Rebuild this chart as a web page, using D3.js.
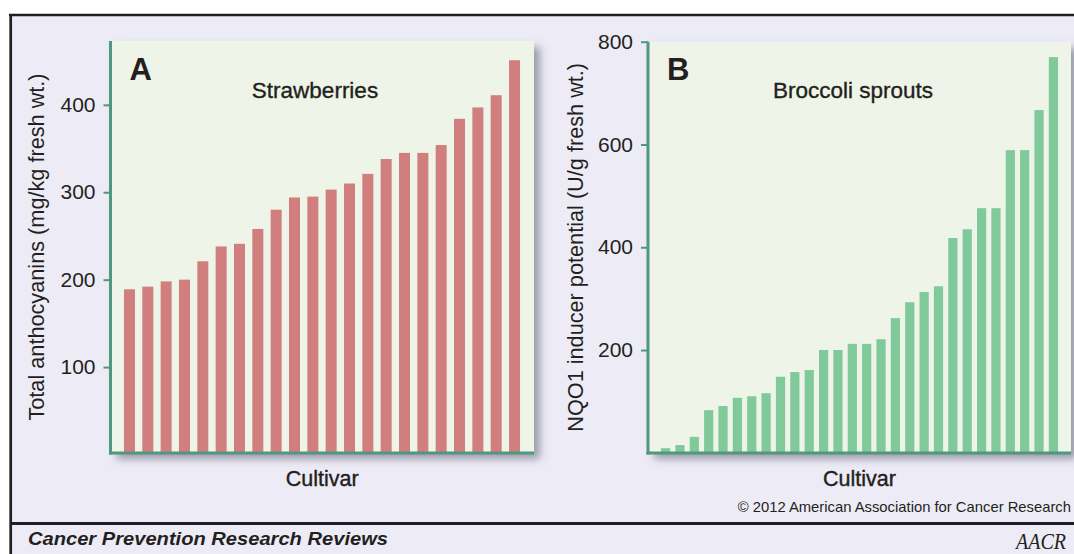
<!DOCTYPE html>
<html>
<head>
<meta charset="utf-8">
<script src="https://cdn.jsdelivr.net/npm/d3@7"></script>
<style>
	body { margin: 0; background: #fff; }
	svg { display: block; }
	text { font-family: "Liberation Sans", Arial, Helvetica, sans-serif; fill: #231f20; }
</style>
</head>
<body>
<div id="chart"></div>
<script>
// values, cultivars sorted low -> high
var strawberryCultivars = d3.range(1, 23).map(i => 'S' + i)
var strawberryValues = [189, 192, 198, 200, 221, 238, 241, 258, 280, 294, 295, 303, 310, 321, 338, 345, 345, 354, 384, 397, 411, 451]
var strawberryTicks = [100, 200, 300, 400]

var broccoliCultivars = d3.range(1, 29).map(i => 'B' + i)
var broccoliValues = [9, 15, 31, 83, 91, 107, 110, 116, 148, 157, 161, 200, 200, 212, 212, 221, 262, 293, 313, 324, 418, 435, 476, 476, 589, 589, 667, 770]
var broccoliTicks = [200, 400, 600, 800]

var width = 1074
var height = 554

var axisColor = '#4f977e'
var plotFill = '#eef4e7'
var frameColor = '#231f20'

const svg = d3.select('#chart').append('svg')
	.attr('width', width)
	.attr('height', height)

// drop shadow for the plot panels
var defs = svg.append('defs')
defs.append('filter')
	.attr('id', 'shadow')
	.attr('x', '-5%').attr('y', '-5%')
	.attr('width', '115%').attr('height', '115%')
	.append('feDropShadow')
	.attr('dx', 6)
	.attr('dy', 6)
	.attr('stdDeviation', 4)
	.attr('flood-color', '#55546a')
	.attr('flood-opacity', 0.55)

// page background + frame
svg.append('rect')
	.attr('x', 10).attr('y', 15)
	.attr('width', width - 10).attr('height', height - 15)
	.attr('fill', '#edecf6')

svg.append('line')
	.attr('x1', 9).attr('x2', width)
	.attr('y1', 15).attr('y2', 15)
	.attr('stroke', frameColor).attr('stroke-width', 2.5)

svg.append('line')
	.attr('x1', 10.7).attr('x2', 10.7)
	.attr('y1', 14).attr('y2', height)
	.attr('stroke', frameColor).attr('stroke-width', 2.7)

svg.append('line')
	.attr('x1', 10).attr('x2', width)
	.attr('y1', 523.5).attr('y2', 523.5)
	.attr('stroke', frameColor).attr('stroke-width', 3)

function drawPanel(opts) {
	var g = svg.append('g')

	var x = d3.scaleBand()
		.domain(opts.categories)
		.range(opts.band)
		.paddingInner(opts.padIn)
		.paddingOuter(opts.padIn / 2)

	var y = d3.scaleLinear()
		.domain([0, opts.yMax])
		.range([opts.zeroY, opts.top])

	// plot background with shadow
	g.append('rect')
		.attr('x', opts.left)
		.attr('y', opts.top)
		.attr('width', opts.right - opts.left)
		.attr('height', opts.bottom - opts.top)
		.attr('fill', plotFill)
		.attr('filter', 'url(#shadow)')

	// bars
	g.selectAll('rect.bar')
		.data(opts.values)
		.enter()
		.append('rect')
		.attr('class', 'bar')
		.attr('x', (d, i) => x(opts.categories[i]))
		.attr('y', d => y(d))
		.attr('width', x.bandwidth())
		.attr('height', d => opts.bottom - y(d))
		.attr('fill', opts.color)

	// y axis
	var yAxis = g.append('g')
		.attr('transform', 'translate(' + opts.left + ',0)')
		.call(d3.axisLeft(y).tickValues(opts.ticks).tickSize(7).tickSizeOuter(0).tickPadding(8))

	yAxis.select('.domain')
		.attr('d', 'M0,' + opts.top + 'V' + (opts.bottom + 1.5))
		.attr('stroke', axisColor)
		.attr('stroke-width', 3)
	yAxis.selectAll('.tick line')
		.attr('stroke', axisColor)
		.attr('stroke-width', 2)
	yAxis.selectAll('.tick text')
		.attr('font-size', 21)
		.attr('font-family', '"Liberation Sans", Arial, sans-serif')
		.attr('fill', '#231f20')

	// bottom axis line
	g.append('line')
		.attr('x1', opts.left - 1.5)
		.attr('x2', opts.right)
		.attr('y1', opts.bottom)
		.attr('y2', opts.bottom)
		.attr('stroke', axisColor)
		.attr('stroke-width', 3)

	// panel letter
	g.append('text')
		.attr('x', opts.left + 19)
		.attr('y', 80)
		.attr('font-size', 31)
		.attr('font-weight', 'bold')
		.text(opts.letter)

	// title
	g.append('text')
		.attr('x', opts.titleX)
		.attr('y', 98)
		.attr('text-anchor', 'middle')
		.attr('font-size', 22.5)
		.attr('stroke', '#231f20')
		.attr('stroke-width', 0.35)
		.text(opts.title)

	// x label
	g.append('text')
		.attr('x', (opts.left + opts.right) / 2)
		.attr('y', 486)
		.attr('text-anchor', 'middle')
		.attr('font-size', 21.5)
		.attr('stroke', '#231f20')
		.attr('stroke-width', 0.4)
		.text('Cultivar')

	// y label
	g.append('text')
		.attr('transform', 'translate(' + opts.yLabelX + ',' + ((opts.top + opts.bottom) / 2) + ') rotate(-90)')
		.attr('text-anchor', 'middle')
		.attr('font-size', 21.7)
		.text(opts.yLabel)
}

drawPanel({
	categories: strawberryCultivars,
	values: strawberryValues,
	ticks: strawberryTicks,
	yMax: 473,
	left: 110.5, right: 534, top: 41, bottom: 453, zeroY: 454.5,
	band: [120.3, 523.7], padIn: 0.4,
	color: '#d17f7e',
	letter: 'A',
	title: 'Strawberries',
	titleX: 315,
	yLabel: 'Total anthocyanins (mg/kg fresh wt.)',
	yLabelX: 44
})

drawPanel({
	categories: broccoliCultivars,
	values: broccoliValues,
	ticks: broccoliTicks,
	yMax: 800,
	left: 648, right: 1071, top: 41.7, bottom: 453, zeroY: 452.8,
	band: [658.4, 1060.6], padIn: 0.36,
	color: '#7fc99b',
	letter: 'B',
	title: 'Broccoli sprouts',
	titleX: 853,
	yLabel: 'NQO1 inducer potential (U/g fresh wt.)',
	yLabelX: 583
})

// credits
svg.append('text')
	.attr('x', 1071)
	.attr('y', 512)
	.attr('text-anchor', 'end')
	.attr('font-size', 14.8)
	.text('\u00a9 2012 American Association for Cancer Research')

svg.append('text')
	.attr('x', 28)
	.attr('y', 545)
	.attr('font-size', 18)
	.attr('font-weight', 'bold')
	.attr('font-style', 'italic')
	.attr('textLength', 360)
	.attr('lengthAdjust', 'spacingAndGlyphs')
	.text('Cancer Prevention Research Reviews')

// AACR mark
svg.append('text')
	.attr('x', 1066)
	.attr('y', 549)
	.attr('text-anchor', 'end')
	.attr('font-size', 23)
	.attr('font-style', 'italic')
	.attr('textLength', 50)
	.attr('lengthAdjust', 'spacingAndGlyphs')
	.style('font-family', '"Liberation Serif", "DejaVu Serif", serif')
	.text('AACR')
</script>
</body>
</html>
